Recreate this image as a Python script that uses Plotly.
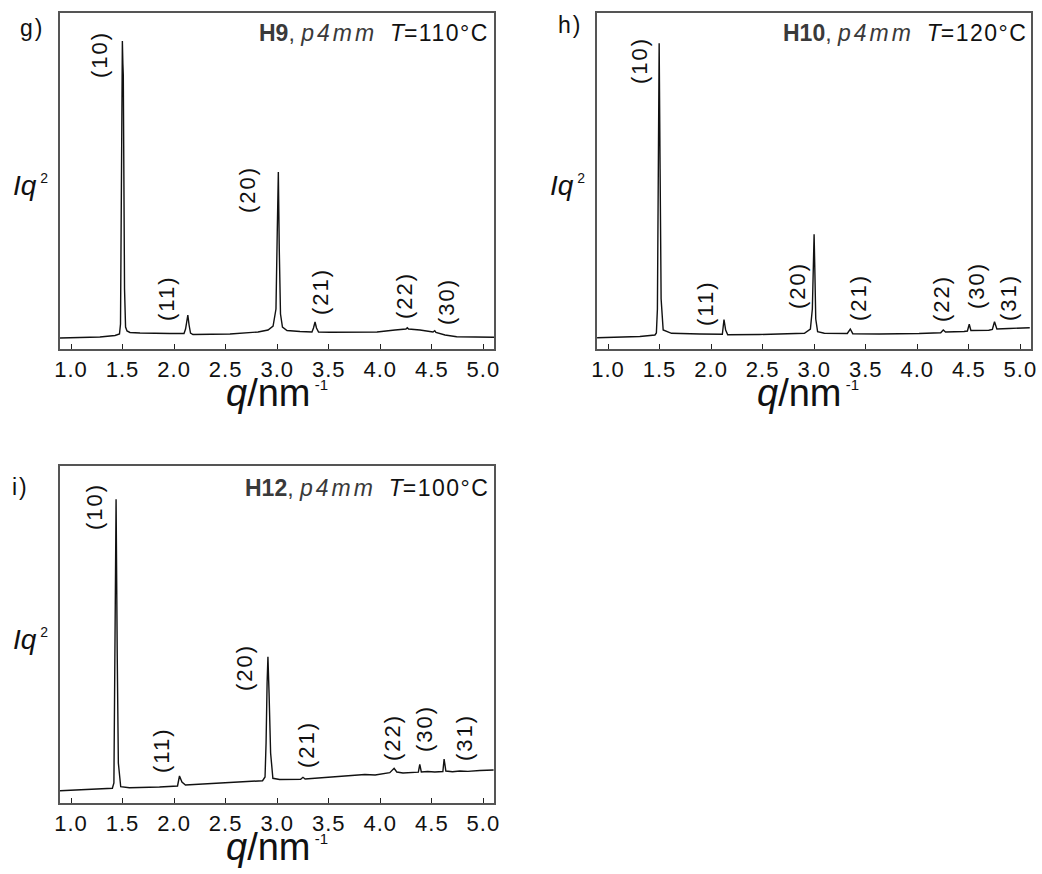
import plotly.graph_objects as go

W, H = 1042, 874

# ---------------- data ----------------
# y values are intensity Iq^2 in arbitrary units
q_g = [0.893, 1.28, 1.427, 1.470, 1.480, 1.490, 1.498, 1.503, 1.507, 1.512, 1.519, 1.529,
       1.543, 1.572, 1.669, 1.96, 2.096, 2.111, 2.125, 2.133, 2.145, 2.159, 2.183, 2.542,
       2.814, 2.911, 2.960, 2.988, 3.001, 3.011, 3.020, 3.032, 3.051, 3.095, 3.221, 3.337,
       3.352, 3.367, 3.381, 3.401, 3.512, 3.968, 4.143, 4.249, 4.262, 4.274, 4.385, 4.511,
       4.528, 4.540, 4.628, 4.741, 5.103]
I_g = [11, 12, 13.5, 15, 25, 150, 308, 285, 274, 200, 60, 22,
       18, 16.5, 16, 15.5, 15.5, 20, 33, 34, 24, 16, 14.5, 15,
       17, 19, 23, 40, 120, 177, 100, 35, 22, 18.5, 17.5, 17,
       21, 27, 21, 17, 16.7, 17, 19, 20, 21.3, 20, 19, 17,
       18.3, 16.5, 14, 12.3, 11.7]

q_h = [0.894, 1.309, 1.455, 1.469, 1.479, 1.488, 1.496, 1.505, 1.515, 1.535, 1.616, 1.890,
       2.109, 2.125, 2.141, 2.161, 2.470, 2.905, 2.963, 2.982, 2.992, 2.999, 3.006, 3.015,
       3.033, 3.098, 3.321, 3.350, 3.374, 3.631, 4.017, 4.227, 4.252, 4.274, 4.453, 4.486,
       4.504, 4.520, 4.694, 4.728, 4.749, 4.772, 4.888, 5.091]
I_h = [11.3, 12.5, 14, 16, 40, 180, 305.7, 180, 50, 19, 15.7, 15,
       14.7, 29.5, 19, 14.3, 14.5, 15.7, 20, 40, 90, 114.7, 80, 30,
       17.3, 15.7, 15.5, 20, 15.3, 15, 15.5, 16.3, 19, 17, 17.5, 18,
       24.7, 18.5, 18.7, 19.5, 27.3, 20, 20.5, 21.3]

q_i = [0.889, 1.178, 1.401, 1.416, 1.425, 1.437, 1.448, 1.459, 1.482, 1.566, 1.858, 2.033,
       2.052, 2.076, 2.110, 2.44, 2.858, 2.882, 2.892, 2.902, 2.910, 2.921, 2.936, 2.958,
       3.023, 3.227, 3.250, 3.271, 3.606, 3.85, 3.95, 4.092, 4.134, 4.160, 4.22, 4.286,
       4.369, 4.383, 4.398, 4.46, 4.529, 4.607, 4.619, 4.636, 4.70, 4.772, 4.85, 4.966, 5.099]
I_i = [12.3, 13.5, 14.7, 20, 120, 303.7, 150, 40, 16.3, 15.3, 16, 17,
       27, 21, 18, 20, 22.3, 26, 60, 120, 146.3, 110, 50, 24.7,
       23.5, 23.7, 25.7, 24, 26.5, 28.5, 28, 30.3, 34.7, 31, 30, 30.5,
       30.8, 38.7, 31, 31.5, 31, 31.5, 44, 32, 31.2, 32, 31.6, 32.5, 33]

panel_names = ["g)", "h)", "i)"]
sample_names = ["H9", "H10", "H12"]
temperatures = ["110", "120", "100"]
peak_labels_g = ["(10)", "(11)", "(20)", "(21)", "(22)", "(30)"]
peak_labels_h = ["(10)", "(11)", "(20)", "(21)", "(22)", "(30)", "(31)"]
peak_labels_i = ["(10)", "(11)", "(20)", "(21)", "(22)", "(30)", "(31)"]
tick_vals = [1.0, 1.5, 2.0, 2.5, 3.0, 3.5, 4.0, 4.5, 5.0]
tick_text = ["1.0", "1.5", "2.0", "2.5", "3.0", "3.5", "4.0", "4.5", "5.0"]

# ---------------- layout helpers ----------------
def px_x(x):
    return x / W

def px_y(y):
    return 1 - y / H

FONT = "Liberation Sans, Arial, sans-serif"

def spaced(s, px):
    return f"<span style='letter-spacing:{px}px'>{s}</span>"

# plot boxes in pixels: (left, top, right, bottom)
boxes = [(60, 13, 494, 349), (597, 13, 1031, 349), (60, 466, 494, 803)]

fig = go.Figure()
series = [(q_g, I_g), (q_h, I_h), (q_i, I_i)]

for k, ((qq, ii), (l, t, r, b)) in enumerate(zip(series, boxes)):
    n = "" if k == 0 else str(k + 1)
    fig.add_trace(go.Scatter(x=qq, y=ii, mode="lines",
                             line=dict(color="#111111", width=1.4),
                             xaxis="x" + n, yaxis="y" + n, showlegend=False,
                             hoverinfo="skip"))
    fig.layout["xaxis" + n] = dict(
        domain=[px_x(l), px_x(r)], anchor="y" + n, range=[0.893, 5.103],
        tickmode="array", tickvals=tick_vals,
        ticktext=[spaced(s, 1) for s in tick_text],
        ticks="inside", ticklen=5, tickwidth=1.2, tickcolor="#222",
        tickfont=dict(family=FONT, size=22, color="#111"),
        showline=True, linecolor="#555", linewidth=1.5, mirror=True,
        showgrid=False, zeroline=False, fixedrange=True, automargin=False)
    fig.layout["yaxis" + n] = dict(
        domain=[px_y(b), px_y(t)], anchor="x" + n, range=[0, b - t],
        showticklabels=False, ticks="", showline=True, linecolor="#555",
        linewidth=1.5, mirror=True, showgrid=False, zeroline=False,
        fixedrange=True, automargin=False)

ann = []

def add_text(text, x, y, size, angle=0, xanchor="center", color="#111", yanchor="middle"):
    ann.append(dict(text=text, x=px_x(x), y=px_y(y), xref="paper", yref="paper",
                    showarrow=False, textangle=angle, xanchor=xanchor, yanchor=yanchor,
                    font=dict(family=FONT, size=size, color=color)))

# panel letters
add_text(spaced(panel_names[0], 2), 32, 28, 23)
add_text(spaced(panel_names[1], 2), 570, 25, 23)
add_text(spaced(panel_names[2], 2), 20, 487, 23)

# titles inside panels
title_pos = [(491, 33), (1029, 33), (491, 488)]
for s, T, (x, y) in zip(sample_names, temperatures, title_pos):
    add_text(f"<b>{s}</b>, <i>{spaced('p4mm', 3)}</i>  "
             f"<span style='color:#111'><i>T</i>{spaced('=' + T + '°C', 1.5)}</span>",
             x, y, 23, xanchor="right", color="#3a3a3a")

# y-axis labels
for (x, y) in [(30, 186), (567, 186), (30, 639)]:
    add_text("<i>Iq</i><sup><span style='font-size:14px'> 2</span></sup>", x, y, 28)

# x-axis titles
for (x, y) in [(277, 393), (808, 393), (277, 847)]:
    add_text("<i>q</i>/nm<sup><span style='font-size:15px'> -1</span></sup>", x, y, 38)

# peak labels (rotated)
pos_g = [(100, 55), (166, 298), (248, 190), (320, 292), (404, 296), (446, 302)]
pos_h = [(639, 61), (706, 303), (798, 286), (858, 298), (942, 299), (977, 286), (1008, 298)]
pos_i = [(95, 507), (161, 750), (244, 668), (306, 745), (392, 738), (424, 729), (464, 738)]
for labels, pos in [(peak_labels_g, pos_g), (peak_labels_h, pos_h), (peak_labels_i, pos_i)]:
    for lab, (x, y) in zip(labels, pos):
        add_text(spaced(lab, 2), x, y, 22, angle=-90)

fig.update_layout(width=W, height=H, margin=dict(l=0, r=0, t=0, b=0),
                  paper_bgcolor="white", plot_bgcolor="white",
                  showlegend=False, annotations=ann)

fig.write_html("out.html")
